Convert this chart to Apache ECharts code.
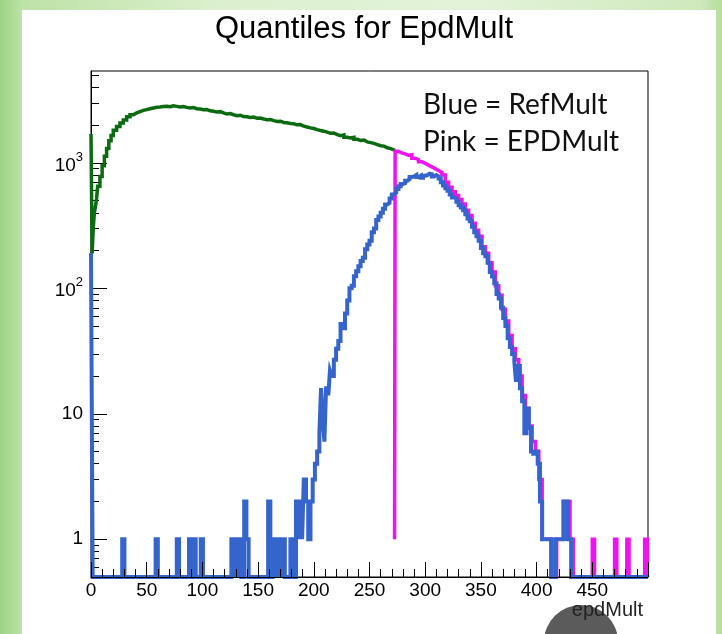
<!DOCTYPE html>
<html>
<head>
<meta charset="utf-8">
<script src="https://cdn.jsdelivr.net/npm/echarts@6/dist/echarts.min.js"></script>
<style>
html, body { margin: 0; padding: 0; }
body {
    width: 722px; height: 634px; overflow: hidden;
    background: linear-gradient(to right, #9cd385 0px, #bde2a6 22px, #dcf0cf 220px, #e3f3d8 480px, #cfe9bd 700px, #b6dd9b 722px);
}
#cn { width: 722px; height: 634px; }
</style>
</head>
<body>
<div id="cn"></div>
<script>
'use strict';

const Y_MIN = Math.log10(0.5);
const Y_MAX = Math.log10(5400);

// EpdMult below the quantile cut (green)
const greenEdges = [0, 1, 2, 3, 4, 5, 6, 8, 10, 12, 14, 16, 18,
    20, 23, 26, 29, 32, 35, 38, 41, 44, 47, 50, 53, 56, 59, 62, 65, 68, 71, 74, 77, 80, 83, 86, 89, 92, 95, 98,
    101, 104, 107, 110, 113, 116, 119, 122, 125, 128, 131, 134, 137, 140, 143, 146, 149, 152, 155, 158,
    161, 164, 167, 170, 173, 176, 179, 182, 185, 188, 191, 194, 197, 200, 203, 206, 209, 212, 215, 218,
    221, 224, 227, 230, 233, 236, 239, 242, 245, 248, 251, 254, 257, 260, 263, 266, 269, 273];
const greenN = [1700, 190, 300, 400, 450, 520, 650, 780, 950, 1130, 1300, 1500, 1650,
    1820, 1950, 2080, 2200, 2330, 2420, 2500, 2560, 2620, 2660, 2700, 2740, 2780, 2790, 2810, 2830, 2800, 2850, 2820, 2790, 2810, 2770, 2740, 2760, 2700, 2690,
    2650, 2660, 2600, 2580, 2540, 2560, 2500, 2450, 2470, 2420, 2380, 2400, 2340, 2330, 2300, 2320, 2270, 2280, 2240, 2210,
    2220, 2170, 2140, 2150, 2100, 2090, 2060, 2050, 2010, 2020, 1960, 1930, 1900, 1880, 1840, 1810, 1790, 1760, 1720, 1730,
    1680, 1650, 1670, 1600, 1580, 1600, 1540, 1510, 1520, 1470, 1450, 1430, 1400, 1370, 1360, 1320, 1300, 1260];

// EpdMult above the cut (pink)
const pinkEdges = [272.5, 273, 276, 279, 282, 285, 288, 291, 294, 297, 300, 303, 306, 309, 312, 315, 318,
    321, 324, 327, 330, 333, 336, 339, 342, 345, 348, 351, 354, 357, 360, 363, 366, 369, 372, 375, 378,
    381, 384, 387, 390, 393, 396, 399, 402, 405, 414, 418, 425, 430, 433, 450, 452, 470, 472, 481, 483, 497, 499.5, 500];
const pinkN = [1, 1240, 1200, 1180, 1150, 1160, 1090, 1060, 1020, 990, 960, 930, 900, 870, 840, 800,
    700, 640, 590, 550, 510, 470, 420, 380, 330, 290, 260, 215, 190, 160, 135, 105, 88, 68, 55, 42,
    33, 27, 20, 14, 11, 8, 6, 5, 3, 1, 0, 1, 2, 1, 0, 1, 0, 1, 0, 1, 0, 1, 0];

// RefMult of the selected events (blue)
const blueEdges = [0, 1.5, 28, 30, 58, 60, 77, 79, 88, 90, 92, 94, 98.5, 100.5, 126, 128, 129.5, 131.5, 133, 135,
    137.5, 139.5, 141.5, 159, 161, 163, 165, 166, 168, 169, 171, 172, 174, 179, 181, 184, 186, 187.5, 189.5, 191,
    193, 195, 197, 199, 201, 203, 205, 206.5, 208, 209.5, 211, 213, 214.5, 216, 218,
    220, 222, 224, 226, 228, 230, 232, 234, 236, 238, 240, 242, 244, 246, 248, 250, 252, 254, 256, 258,
    260, 262, 264, 266, 268, 270, 272, 274, 276, 278, 280, 282, 284, 286, 288, 290, 292, 294, 296, 298,
    300, 302, 304, 306, 308, 310, 312, 314, 316, 318, 320, 322, 324, 326, 328, 330, 332, 334, 336, 338,
    340, 342, 344, 346, 348, 350, 352, 354, 356, 358, 360, 362, 364, 366, 368, 370, 372, 374, 376, 378,
    380, 381.5, 383, 385, 387, 389, 391, 393, 395, 397, 399, 401, 403, 405, 413, 417, 424, 428, 431, 500];
const blueN = [190, 0, 1, 0, 1, 0, 1, 0, 1, 0, 1, 0, 1, 0, 1, 0, 1, 0, 1,
    0, 2, 1, 0, 2, 0, 1, 0, 1, 0, 1, 0, 1, 0, 1, 0, 2, 1, 2, 1,
    3, 2, 1, 2, 3, 4, 5, 7, 16, 9, 6, 16, 14, 22, 20, 27,
    33, 38, 52, 48, 63, 80, 100, 105, 125, 137, 150, 165, 175, 205, 224, 240, 280, 300, 350, 374,
    400, 430, 466, 480, 520, 560, 580, 620, 650, 680, 690, 720, 740, 770, 780, 800, 770, 790, 760, 790,
    800, 820, 810, 780, 800, 780, 750, 700, 660, 627, 600, 560, 530, 520, 490, 460, 440, 420, 390, 360,
    343, 310, 280, 260, 240, 210, 190, 180, 160, 135, 124, 110, 90, 83, 70, 58, 50, 40, 34, 30,
    26, 18, 24, 16, 12.6, 7, 11, 7.7, 5, 4.8, 5, 4, 2, 1, 0, 1, 2, 1, 0];

const yMajor = [0, 1, 2, 3];
const yMinorVals = [0.6, 0.7, 0.8, 0.9, 2, 3, 4, 5, 6, 7, 8, 9, 20, 30, 40, 50, 60, 70, 80, 90,
    200, 300, 400, 500, 600, 700, 800, 900, 2000, 3000, 4000, 5000];

const FONT = '"Liberation Sans", Arial, sans-serif';

// histogram bins -> step polyline in log10 space, empty bins sit on the floor
const toSteps = (edges, counts) => {
    let pts = [];
    for (let i = 0; i < counts.length; i++) {
        const v = counts[i] > 0 ? Math.log10(counts[i]) : Y_MIN;
        pts.push([edges[i], v]);
        pts.push([edges[i + 1], v]);
    }
    return pts;
}

const histSeries = (name, edges, counts, color, width) => ({
    name: name,
    type: 'line',
    data: toSteps(edges, counts),
    symbol: 'none',
    showSymbol: false,
    clip: true,
    lineStyle: { color: color, width: width, join: 'miter' },
    z: 3
});

const chart = echarts.init(document.getElementById('cn'), null, { renderer: 'canvas' });

const option = {
    animation: false,
    backgroundColor: 'transparent',
    grid: {
        left: 91, right: 74, top: 71, bottom: 57,
        show: true, borderColor: '#000', borderWidth: 1,
        backgroundColor: 'transparent'
    },
    xAxis: {
        type: 'value',
        min: 0, max: 500, interval: 50,
        axisLine: { show: true, onZero: false, lineStyle: { color: '#000', width: 1 } },
        axisTick: { show: true, inside: true, length: 15, lineStyle: { color: '#000', width: 1 } },
        minorTick: { show: true, splitNumber: 5, length: 8, lineStyle: { color: '#000', width: 1 } },
        axisLabel: { color: '#000', fontSize: 19, fontFamily: FONT, margin: 4, showMaxLabel: false },
        splitLine: { show: false },
        z: 5
    },
    yAxis: [{
        type: 'value',
        min: Y_MIN, max: Y_MAX,
        axisLine: { show: true, lineStyle: { color: '#000', width: 1 } },
        axisTick: { show: true, inside: true, length: 16, customValues: yMajor, lineStyle: { color: '#000', width: 1 } },
        axisLabel: {
            color: '#000', fontSize: 19, fontFamily: FONT, margin: 8,
            customValues: yMajor,
            formatter: v => {
                if (v === 0) return '1';
                if (v === 1) return '10';
                return '{b|10}{sup|' + v + '}';
            },
            rich: {
                b: { fontSize: 19, fontFamily: FONT, color: '#000', lineHeight: 24, verticalAlign: 'bottom' },
                sup: { fontSize: 13, fontFamily: FONT, color: '#000', lineHeight: 13, verticalAlign: 'top' }
            }
        },
        splitLine: { show: false }
    }, {
        type: 'value',
        position: 'left',
        min: Y_MIN, max: Y_MAX,
        axisLine: { show: false },
        axisTick: { show: true, inside: true, length: 8, customValues: yMinorVals.map(v => Math.log10(v)), lineStyle: { color: '#000', width: 1 } },
        axisLabel: { show: false },
        splitLine: { show: false }
    }],
    graphic: [{
        type: 'rect',
        shape: { x: 22, y: 10, width: 694, height: 630 },
        style: { fill: '#ffffff' },
        z: -10
    }, {
        type: 'circle',
        shape: { cx: 581, cy: 642, r: 37 },
        style: { fill: '#5b5b5b' },
        z: -5
    }, {
        type: 'text',
        style: { text: 'epdMult', x: 643, y: 610, align: 'right', verticalAlign: 'middle', font: '20px ' + FONT, fill: '#222' },
        z: 10
    }, {
        type: 'text',
        style: { text: 'Quantiles for EpdMult', x: 364, y: 29, align: 'center', verticalAlign: 'middle', font: '31px ' + FONT, fill: '#000' },
        z: 10
    }, {
        type: 'text',
        style: { text: 'Blue = RefMult', x: 423, y: 105, align: 'left', verticalAlign: 'middle', font: '28px Lato, sans-serif', fill: '#111' },
        z: 10
    }, {
        type: 'text',
        style: { text: 'Pink = EPDMult', x: 423, y: 142, align: 'left', verticalAlign: 'middle', font: '28px Lato, sans-serif', fill: '#111' },
        z: 10
    }],
    series: [
        histSeries('EpdMult', greenEdges, greenN, '#0b6b10', 3.5),
        histSeries('EpdMult top', pinkEdges, pinkN, '#f012f0', 3.5),
        histSeries('RefMult', blueEdges, blueN, '#3565cc', 4)
    ]
};

chart.setOption(option);
</script>
</body>
</html>
